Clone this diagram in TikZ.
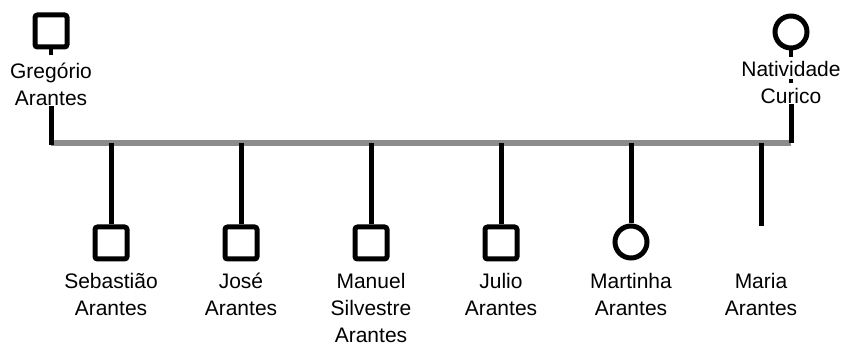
\documentclass[tikz,border=0pt]{standalone}
\usepackage{fontspec}
\setmainfont{Liberation Sans}
\definecolor{bargray}{HTML}{8C8C8C}
\begin{document}
\begin{tikzpicture}[x=1pt,y=-1pt,
  male/.style={draw, line width=5pt, rectangle, rounded corners=2.5pt, minimum size=32pt, inner sep=0pt},
  female/.style={draw, line width=5pt, circle, minimum size=32pt, inner sep=0pt},
  link/.style={line width=5pt, black},
  stub/.style={line width=4pt, black},
  bar/.style={line width=5.5pt, draw=bargray},
  pname/.style={font=\fontsize{21}{27}\selectfont, align=center, inner sep=0pt, anchor=base}]
\useasboundingbox (0,0) rectangle (843,347);
% parents
\node[male] (greg) at (51,31) {};
\node[pname] (gregname) at (51,106) {Gregório\\Arantes};
\node[female] (nat) at (791,32) {};
\node[pname] (natname) at (791,104) {Natividade\\Curico};
\coordinate (gj) at (51,143);
\coordinate (nj) at (791,143);
\coordinate (nd1) at (791,79);
\coordinate (nd2) at (791,83);
\draw[bar] (gj) -- (nj);
\draw[stub] (greg.south) -- ++(0,6);
\draw[stub] (nat.south) -- ++(0,7);
\draw[stub] (nd1) -- (nd2);
\draw[link] (gregname.south) -- ([yshift=-2.5pt]gj);
\draw[link] (natname.south) -- (nj);
% children
\coordinate (c1) at (111,143);
\coordinate (c2) at (241,143);
\coordinate (c3) at (371,143);
\coordinate (c4) at (501,143);
\coordinate (c5) at (631,143);
\coordinate (c6) at (761,143);
\node[male] (seb) at (111,243) {};
\node[male] (jose) at (241,243) {};
\node[male] (manuel) at (371,243) {};
\node[male] (julio) at (501,243) {};
\node[female] (martinha) at (631,242) {};
\coordinate (maria) at (761,226);
\draw[link] (c1) -- (seb.north);
\draw[link] (c2) -- (jose.north);
\draw[link] (c3) -- (manuel.north);
\draw[link] (c4) -- (julio.north);
\draw[link] (c5) -- (martinha.north);
\draw[link] (c6) -- (maria);
\node[pname] (sebname) at (111,315) {Sebastião\\Arantes};
\node[pname] (josename) at (241,315) {José\\Arantes};
\node[pname] (manuelname) at (371,342) {Manuel\\Silvestre\\Arantes};
\node[pname] (julioname) at (501,315) {Julio\\Arantes};
\node[pname] (martinhaname) at (631,315) {Martinha\\Arantes};
\node[pname] (marianame) at (761,315) {Maria\\Arantes};
\end{tikzpicture}
\end{document}
